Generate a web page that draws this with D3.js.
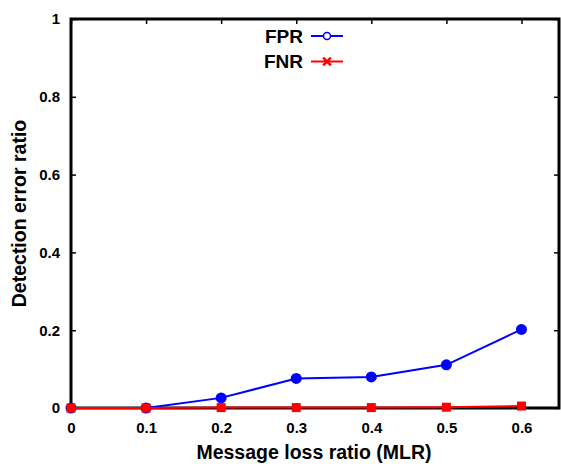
<!DOCTYPE html>
<html>
<head>
<meta charset="utf-8">
<script src="https://cdn.jsdelivr.net/npm/d3@7"></script>
<style>
  body { margin: 0; background: #fff; }
  text { font-family: "Liberation Sans", Arial, sans-serif; font-weight: bold; }
</style>
</head>
<body>
<div id="chart"></div>
<script>
// data
let mlr = [0, 0.1, 0.2, 0.3, 0.4, 0.5, 0.6];
let fpr = [0, 0, 0.026, 0.076, 0.080, 0.111, 0.202];
let fnr = [0, 0, 0.001, 0.001, 0.001, 0.002, 0.005];
let xTicks = [0, 0.1, 0.2, 0.3, 0.4, 0.5, 0.6];
let yTicks = [0, 0.2, 0.4, 0.6, 0.8, 1];

let width = 561, height = 464;
let margin = {top: 19, right: 2, bottom: 56, left: 71};
let w = width - margin.left - margin.right;
let h = height - margin.top - margin.bottom;

let svg = d3.select('#chart')
    .append('svg')
    .attr('width', width)
    .attr('height', height)
    .append('g')
    .attr('transform', `translate(${margin.left}, ${margin.top})`);

let x = d3.scaleLinear().domain([0, 0.65]).range([0, w]);
let y = d3.scaleLinear().domain([0, 1]).range([h, 0]);

// axes, ticks pointing inward on all four sides
let fmt = d => d === 0 ? '0' : d === 1 ? '1' : d3.format('.1f')(d);

let styleAxis = g => {
    g.select('.domain').remove();
    g.selectAll('.tick line').attr('stroke', '#000').attr('stroke-width', 1.5);
    g.selectAll('.tick text').style('font-size', '15px').attr('fill', '#000');
};

svg.append('g')
    .attr('transform', `translate(0, ${h})`)
    .call(d3.axisBottom(x).tickValues(xTicks).tickFormat(fmt).tickSizeInner(-5).tickPadding(14))
    .call(styleAxis);

svg.append('g')
    .call(d3.axisTop(x).tickValues(xTicks).tickFormat('').tickSizeInner(-5))
    .call(styleAxis);

svg.append('g')
    .call(d3.axisLeft(y).tickValues(yTicks).tickFormat(fmt).tickSizeInner(-5).tickPadding(11))
    .call(styleAxis);

svg.append('g')
    .attr('transform', `translate(${w}, 0)`)
    .call(d3.axisRight(y).tickValues(yTicks).tickFormat('').tickSizeInner(-5))
    .call(styleAxis);

// frame
svg.append('rect')
    .attr('width', w)
    .attr('height', h)
    .attr('fill', 'none')
    .attr('stroke', '#000')
    .attr('stroke-width', 3);

let line = d3.line().x((d, i) => x(mlr[i])).y(d => y(d));

// FPR
svg.append('path')
    .datum(fpr)
    .attr('d', line)
    .attr('fill', 'none')
    .attr('stroke', '#0000ff')
    .attr('stroke-width', 2);

svg.selectAll('.fpr')
    .data(fpr)
    .enter()
    .append('circle')
    .attr('class', 'fpr')
    .attr('cx', (d, i) => x(mlr[i]))
    .attr('cy', d => y(d))
    .attr('r', 5.5)
    .attr('fill', '#0000ff');

// FNR
svg.append('path')
    .datum(fnr)
    .attr('d', line)
    .attr('fill', 'none')
    .attr('stroke', '#ff0000')
    .attr('stroke-width', 2);

svg.selectAll('.fnr')
    .data(fnr)
    .enter()
    .append('rect')
    .attr('class', 'fnr')
    .attr('x', (d, i) => x(mlr[i]) - 4.5)
    .attr('y', d => y(d) - 4.5)
    .attr('width', 9)
    .attr('height', 9)
    .attr('fill', '#ff0000');

// legend
let legend = svg.append('g').attr('transform', 'translate(232, 0)');
legend.append('text').attr('x', 0).attr('y', 24).attr('text-anchor', 'end')
    .style('font-size', '19px').text('FPR');
legend.append('line').attr('x1', 8).attr('x2', 40).attr('y1', 17).attr('y2', 17)
    .attr('stroke', '#0000ff').attr('stroke-width', 2);
legend.append('circle').attr('cx', 24).attr('cy', 17).attr('r', 3.5)
    .attr('fill', '#fff').attr('stroke', '#0000ff').attr('stroke-width', 1.5);

legend.append('text').attr('x', 0).attr('y', 49).attr('text-anchor', 'end')
    .style('font-size', '19px').text('FNR');
legend.append('line').attr('x1', 8).attr('x2', 40).attr('y1', 42.5).attr('y2', 42.5)
    .attr('stroke', '#ff0000').attr('stroke-width', 2);
legend.append('path').attr('transform', 'translate(24, 42.5)')
    .attr('d', d3.symbol(d3.symbolX, 40)())
    .attr('stroke', '#ff0000').attr('stroke-width', 2.5).attr('fill', 'none');

// axis titles
svg.append('text')
    .attr('x', w / 2 - 1)
    .attr('y', h + 51)
    .attr('text-anchor', 'middle')
    .style('font-size', '19.5px')
    .text('Message loss ratio (MLR)');

svg.append('text')
    .attr('transform', `translate(-45, ${h / 2}) rotate(-90)`)
    .attr('text-anchor', 'middle')
    .style('font-size', '19.5px')
    .text('Detection error ratio');
</script>
</body>
</html>
